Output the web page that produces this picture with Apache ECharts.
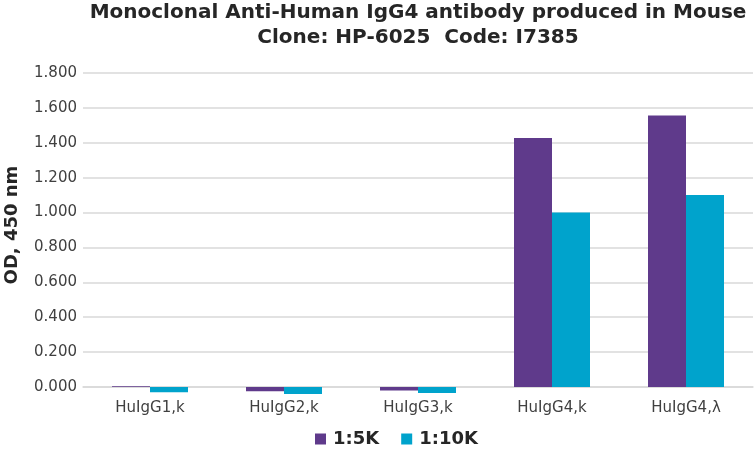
<!DOCTYPE html>
<html>
<head>
<meta charset="utf-8">
<script src="https://cdn.jsdelivr.net/npm/echarts@6/dist/echarts.min.js"></script>
<style>
  html, body { margin: 0; padding: 0; background: #fff; }
  #chart { width: 756px; height: 450px; }
</style>
</head>
<body>
<div id="chart"></div>
<script>
var categories = ['HuIgG1,k', 'HuIgG2,k', 'HuIgG3,k', 'HuIgG4,k', 'HuIgG4,λ'];
var seriesNames = ['1:5K', '1:10K'];
var od5K = [0.005, -0.025, -0.02, 1.427, 1.556];
var od10K = [-0.03, -0.04, -0.035, 1.0, 1.101];
var colors = ['#5f3a8b', '#00a3cc'];

var font = 'DejaVu Sans, Verdana, sans-serif';
var myChart = echarts.init(document.getElementById('chart'));

myChart.setOption({
  animation: false,
  title: {
    text: 'Monoclonal Anti-Human IgG4 antibody produced in Mouse\nClone: HP-6025  Code: I7385',
    left: 413,
    textAlign: 'center',
    top: -5,
    textStyle: {
      fontFamily: font,
      fontWeight: 'bold',
      fontSize: 20,
      lineHeight: 25,
      color: '#262626'
    }
  },
  legend: {
    data: seriesNames,
    left: 310,
    top: 425,
    icon: 'rect',
    itemWidth: 11,
    itemHeight: 11,
    itemGap: 22,
    textStyle: {
      fontFamily: font,
      fontWeight: 'bold',
      fontSize: 18,
      color: '#262626',
      padding: [0, 0, 0, 2]
    }
  },
  grid: {
    left: 83,
    right: 3,
    top: 73,
    bottom: 63,
    outerBoundsMode: 'none'
  },
  xAxis: {
    type: 'category',
    data: categories,
    axisLine: { lineStyle: { color: '#d9d9d9', width: 1.5 } },
    axisTick: { show: false },
    axisLabel: {
      fontFamily: font,
      fontSize: 15,
      color: '#404040',
      margin: 14
    }
  },
  yAxis: {
    type: 'value',
    min: 0,
    max: 1.8,
    interval: 0.2,
    name: 'OD, 450 nm',
    nameLocation: 'middle',
    nameRotate: 90,
    nameGap: 62,
    nameTextStyle: {
      fontFamily: font,
      fontWeight: 'bold',
      fontSize: 18,
      color: '#262626',
      padding: [0, 0, 0, 10]
    },
    axisLine: { show: false },
    axisTick: { show: false },
    splitLine: { lineStyle: { color: '#d9d9d9', width: 1.5 } },
    axisLabel: {
      fontFamily: font,
      fontSize: 15,
      color: '#404040',
      margin: 6,
      formatter: function (v) { return v.toFixed(3); }
    }
  },
  series: [
    {
      name: seriesNames[0],
      type: 'bar',
      data: od5K,
      barWidth: 38,
      barGap: '0%',
      clip: false,
      itemStyle: { color: colors[0] }
    },
    {
      name: seriesNames[1],
      type: 'bar',
      data: od10K,
      barWidth: 38,
      barGap: '0%',
      clip: false,
      itemStyle: { color: colors[1] }
    }
  ]
});
</script>
</body>
</html>
